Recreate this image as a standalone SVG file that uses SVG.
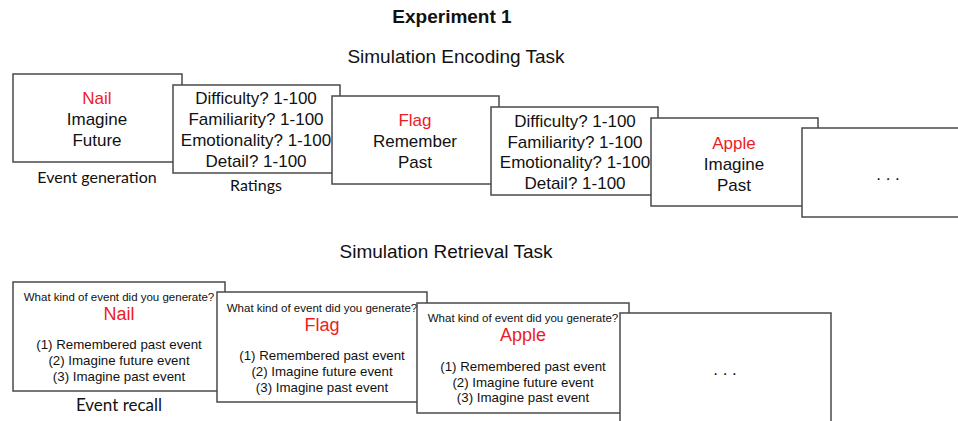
<svg xmlns="http://www.w3.org/2000/svg" width="958" height="421" viewBox="0 0 958 421">
<style>
.box{fill:#fff;stroke:#4a4a4a;stroke-width:1.5}
.t{font-family:"Liberation Sans",Arial,sans-serif;fill:#111;text-anchor:middle}
.m{font-size:17px}
.red{fill:#ee1c24}
.q{font-size:11.5px}
.o{font-size:13.3px}
.w{font-size:18px}
.lab{font-family:Lato,"Liberation Sans",sans-serif;fill:#111;text-anchor:middle}
</style>
<rect width="958" height="421" fill="#fff"/>
<g id="titles">
<text class="t" x="452" y="23" font-size="19" font-weight="bold">Experiment 1</text>
<text class="t" x="456" y="63" font-size="19">Simulation Encoding Task</text>
<text class="t" x="446" y="258" font-size="19">Simulation Retrieval Task</text>
</g>
<g id="enc-nail">
<rect class="box" x="13" y="74" width="169" height="88"/>
<text class="t m red" x="97" y="104">Nail</text>
<text class="t m" x="97" y="125">Imagine</text>
<text class="t m" x="97" y="146">Future</text>
<text class="lab" x="97" y="183" font-size="16">Event generation</text>
</g>
<g id="enc-ratings1">
<rect class="box" x="173" y="85" width="167" height="88"/>
<text class="t m" x="256" y="104">Difficulty? 1-100</text>
<text class="t m" x="256" y="125">Familiarity? 1-100</text>
<text class="t m" x="256" y="146">Emotionality? 1-100</text>
<text class="t m" x="256" y="167">Detail? 1-100</text>
<text class="lab" x="256" y="191" font-size="16">Ratings</text>
</g>
<g id="enc-flag">
<rect class="box" x="332" y="96" width="167" height="88"/>
<text class="t m red" x="415" y="126">Flag</text>
<text class="t m" x="415" y="147">Remember</text>
<text class="t m" x="415" y="168">Past</text>
</g>
<g id="enc-ratings2">
<rect class="box" x="491" y="107" width="167" height="88"/>
<text class="t m" x="575" y="127">Difficulty? 1-100</text>
<text class="t m" x="575" y="148">Familiarity? 1-100</text>
<text class="t m" x="575" y="168">Emotionality? 1-100</text>
<text class="t m" x="575" y="189">Detail? 1-100</text>
</g>
<g id="enc-apple">
<rect class="box" x="651" y="118" width="167" height="88"/>
<text class="t m red" x="734" y="149">Apple</text>
<text class="t m" x="734" y="170">Imagine</text>
<text class="t m" x="734" y="191">Past</text>
</g>
<g id="enc-more">
<rect class="box" x="802" y="128" width="170" height="89"/>
<text class="t m" x="888" y="180">. . .</text>
</g>
<g id="ret-nail">
<rect class="box" x="13" y="282" width="212" height="109"/>
<text class="t q" x="119" y="301">What kind of event did you generate?</text>
<text class="t w red" x="119" y="320">Nail</text>
<text class="t o" x="119" y="349">(1) Remembered past event</text>
<text class="t o" x="119" y="365">(2) Imagine future event</text>
<text class="t o" x="119" y="381">(3) Imagine past event</text>
<text class="lab" x="119" y="411" font-size="17">Event recall</text>
</g>
<g id="ret-flag">
<rect class="box" x="217" y="292" width="210" height="110"/>
<text class="t q" x="322" y="312">What kind of event did you generate?</text>
<text class="t w red" x="322" y="331">Flag</text>
<text class="t o" x="322" y="360">(1) Remembered past event</text>
<text class="t o" x="322" y="376">(2) Imagine future event</text>
<text class="t o" x="322" y="392">(3) Imagine past event</text>
</g>
<g id="ret-apple">
<rect class="box" x="417" y="303" width="212" height="110"/>
<text class="t q" x="523" y="322">What kind of event did you generate?</text>
<text class="t w red" x="523" y="341">Apple</text>
<text class="t o" x="523" y="371">(1) Remembered past event</text>
<text class="t o" x="523" y="387">(2) Imagine future event</text>
<text class="t o" x="523" y="402">(3) Imagine past event</text>
</g>
<g id="ret-more">
<rect class="box" x="620" y="313" width="211" height="115"/>
<text class="t m" x="725" y="375">. . .</text>
</g>
</svg>
